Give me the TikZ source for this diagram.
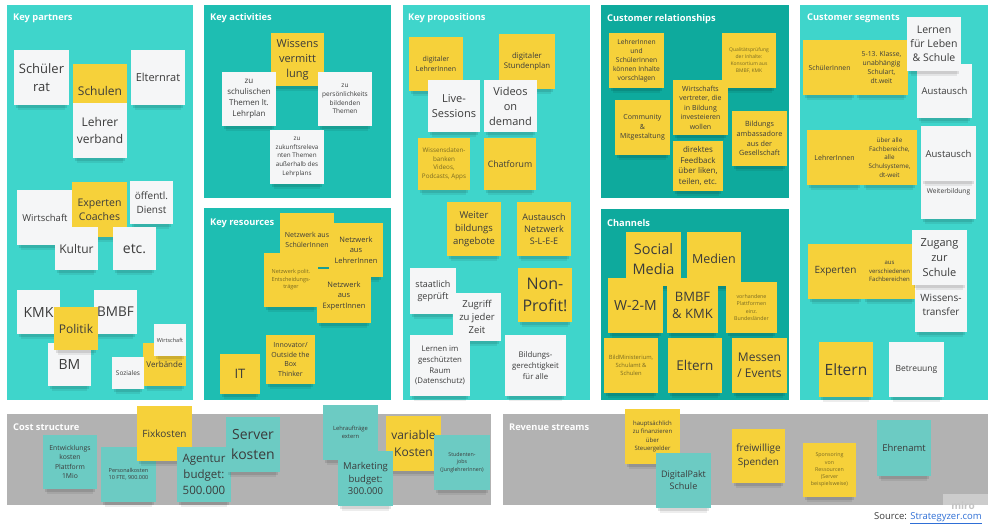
\documentclass[tikz,border=0pt]{standalone}
\usepackage{fontspec}
\setmainfont{Open Sans}
\definecolor{pLight}{HTML}{3FD5CB}
\definecolor{pMed}{HTML}{1EBEB2}
\definecolor{pDark}{HTML}{0EAA9D}
\definecolor{pGray}{HTML}{B2B2B2}
\definecolor{sty}{HTML}{F6D13A}
\definecolor{stw}{HTML}{F5F6F7}
\definecolor{stt}{HTML}{6CCBC3}
\definecolor{txt}{HTML}{3B3B3B}
\definecolor{txtol}{HTML}{7A6A22}
\definecolor{link}{HTML}{2F6FD6}
\definecolor{miroc}{HTML}{C4C4C4}
\tikzset{
  fs/.code={\pgfmathsetmacro\fsl{#1*1.36}\edef\fstmp{\noexpand\tikzset{font=\noexpand\fontsize{#1}{\fsl}\noexpand\selectfont}}\fstmp},
  stickynote/.style={inner sep=0pt, align=center, text=txt, draw=none},
  olive/.style={text=txtol},
  ptitle/.style={anchor=west, text=white, font=\fontsize{9.3}{11}\selectfont\bfseries, inner sep=0pt},
}
% name, x, y, w, h, fill, style, text
\newcommand\stk[8]{%
  \fill[black,opacity=0.10] (#2+2,#3+#5-4) rectangle (#2+#4-2,#3+#5+3);
  \fill[black,opacity=0.07] (#2+4,#3+#5) rectangle (#2+#4-4,#3+#5+5);
  \node[stickynote, fill=#6, minimum width=#4pt, minimum height=#5pt, #7] (#1) at ({#2+#4/2},{#3+#5/2}) {#8};
}
\begin{document}
\begin{tikzpicture}[x=1pt,y=-1pt]
\useasboundingbox (0,0) rectangle (1002,530);
\fill[white] (0,0) rectangle (1002,530);
% panels
\fill[pLight] (7,5) rectangle (193,400);
\fill[pMed] (204,5) rectangle (391,198);
\fill[pMed] (204,208) rectangle (391,400);
\fill[pLight] (403,5) rectangle (590,400);
\fill[pDark] (601,5) rectangle (789,198);
\fill[pDark] (601,209) rectangle (789,400);
\fill[pLight] (800,5) rectangle (988,400);
\fill[pGray] (7,414) rectangle (491,505);
\fill[pGray] (503,414) rectangle (988,505);
% titles
\node[ptitle] (tKP) at (13,18) {Key partners};
\node[ptitle] (tKA) at (210,18) {Key activities};
\node[ptitle] (tKR) at (210,223) {Key resources};
\node[ptitle] (tVP) at (408,18) {Key propositions};
\node[ptitle] (tCR) at (607,19) {Customer relationships};
\node[ptitle] (tCH) at (607,223) {Channels};
\node[ptitle] (tCS) at (807,18) {Customer segments};
\node[ptitle] (tCO) at (13,427) {Cost structure};
\node[ptitle] (tRE) at (509,427) {Revenue streams};

% Key partners
\stk{kpA}{14}{50}{55}{55}{stw}{fs=13}{Schüler\\rat}
\stk{kpB}{131}{50}{54}{55}{stw}{fs=11}{Elternrat}
\stk{kpC}{73}{64}{54}{54}{sty}{fs=12}{Schulen}
\stk{kpD}{73}{103}{54}{55}{stw}{fs=12}{Lehrer\\verband}
\stk{kpE}{17}{190}{56}{55}{stw}{fs=9.5}{Wirtschaft}
\stk{kpF}{72}{182}{55}{55}{sty}{fs=10.5}{Experten\\Coaches}
\stk{kpG}{130}{181}{43}{43}{stw}{fs=10}{öffentl.\\Dienst}
\stk{kpH}{55}{227}{43}{43}{stw}{fs=12}{Kultur}
\stk{kpI}{113}{227}{43}{43}{stw}{fs=14}{etc.}
\stk{kpJ}{17}{290}{43}{44}{stw}{fs=14}{KMK}
\stk{kpK}{94}{290}{43}{44}{stw}{fs=13.5}{BMBF}
\stk{kpL}{48}{343}{43}{43}{stw}{fs=14}{BM}
\stk{kpM}{54}{307}{44}{43}{sty}{fs=12}{Politik}
\stk{kpN}{143}{343}{43}{43}{sty}{fs=8}{Verbände}
\stk{kpO}{154}{324}{32}{32}{stw}{fs=5.5}{Wirtschaft}
\stk{kpP}{112}{357}{32}{32}{stw}{fs=6.5}{Soziales}

% Key activities
\stk{kaA}{271}{33}{53}{53}{sty}{fs=11}{Wissens\\vermitt\\lung}
\stk{kaB}{222}{72}{54}{54}{stw}{fs=8}{zu\\schulischen\\Themen lt.\\Lehrplan}
\stk{kaC}{318}{72}{54}{54}{stw}{fs=6.5}{zu\\persönlichkeits\\bildenden\\Themen}
\stk{kaD}{270}{130}{54}{54}{stw}{fs=6.3}{zu\\zukunftsreleva\\nten Themen\\außerhalb des\\Lehrplans}

% Key resources
\stk{krA}{280}{213}{54}{54}{sty}{fs=7}{Netzwerk aus\\SchülerInnen}
\stk{krB}{329}{223}{54}{54}{sty}{fs=7.5}{Netzwerk\\aus\\LehrerInnen}
\stk{krC}{264}{253}{54}{54}{sty}{fs=5.5,olive}{Netzwerk polit.\\Entscheidungs-\\träger}
\stk{krD}{317}{269}{54}{54}{sty}{fs=7.5}{Netzwerk\\aus\\ExpertInnen}
\stk{krE}{266}{335}{49}{49}{sty}{fs=7}{Innovator/\\Outside the\\Box\\Thinker}
\stk{krF}{220}{354}{40}{40}{sty}{fs=13}{IT}

% Key propositions
\stk{vpA}{409}{37}{54}{54}{sty}{fs=7}{digitaler\\LehrerInnen}
\stk{vpB}{499}{34}{56}{55}{sty}{fs=7.8}{digitaler\\Stundenplan}
\stk{vpC}{428}{80}{52}{52}{stw}{fs=11}{Live-\\Sessions}
\stk{vpD}{484}{80}{53}{52}{stw}{fs=11}{Videos\\on\\demand}
\stk{vpE}{418}{138}{52}{52}{sty}{fs=6.3,olive}{Wissensdaten-\\banken\\Videos,\\Podcasts, Apps}
\stk{vpF}{484}{138}{52}{52}{sty}{fs=8.8}{Chatforum}
\stk{vpG}{447}{202}{54}{54}{sty}{fs=9.5}{Weiter\\bildungs\\angebote}
\stk{vpH}{517}{202}{54}{54}{sty}{fs=9}{Austausch\\Netzwerk\\S-L-E-E}
\stk{vpI}{410}{268}{46}{46}{stw}{fs=9}{staatlich\\geprüft}
\stk{vpJ}{453}{293}{48}{48}{stw}{fs=9.5}{Zugriff\\zu jeder\\Zeit}
\stk{vpK}{518}{268}{54}{54}{sty}{fs=16}{Non-\\Profit!}
\stk{vpL}{410}{335}{60}{61}{stw}{fs=7.8}{Lernen im\\geschützten\\Raum\\(Datenschutz)}
\stk{vpM}{505}{335}{61}{61}{stw}{fs=7.8}{Bildungs-\\gerechtigkeit\\für alle}

% Customer relationships
\stk{crA}{609}{33}{55}{55}{sty}{fs=6.7}{LehrerInnen\\und\\SchülerInnen\\können Inhalte\\vorschlagen}
\stk{crB}{722}{33}{54}{55}{sty}{fs=5,olive}{Qualitätsprüfung\\der Inhalte:\\Konsortium aus\\BMBF, KMK}
\stk{crC}{615}{100}{55}{55}{sty}{fs=7}{Community\\\&\\Mitgestaltung}
\stk{crD}{673}{80}{55}{55}{sty}{fs=7}{Wirtschafts\\vertreter, die\\in Bildung\\investeieren\\wollen}
\stk{crE}{732}{111}{55}{55}{sty}{fs=7.2}{Bildungs\\ambassadore\\aus der\\Gesellschaft}
\stk{crF}{673}{141}{50}{50}{sty}{fs=8}{direktes\\Feedback\\über liken,\\teilen, etc.}

% Channels
\stk{chA}{626}{232}{55}{54}{sty}{fs=14.5}{Social\\Media}
\stk{chB}{687}{232}{54}{54}{sty}{fs=12.5}{Medien}
\stk{chC}{608}{278}{55}{55}{sty}{fs=14}{W-2-M}
\stk{chD}{667}{278}{51}{55}{sty}{fs=13}{BMBF\\\& KMK}
\stk{chE}{726}{282}{51}{51}{sty}{fs=5.3,olive}{vorhandene\\Plattformen\\einz.\\Bundesländer}
\stk{chF}{604}{338}{54}{55}{sty}{fs=5.8,olive}{BildMinisterium,\\Schulamt \&\\Schulen}
\stk{chG}{668}{338}{54}{55}{sty}{fs=13.5}{Eltern}
\stk{chH}{732}{338}{55}{55}{sty}{fs=12}{Messen\\/ Events}

% Customer segments
\stk{csA}{803}{40}{53}{55}{sty}{fs=6.8}{SchülerInnen}
\stk{csB}{855}{40}{53}{55}{sty}{fs=6.8}{5-13. Klasse,\\unabhängig\\Schulart,\\dt.weit}
\stk{csD}{917}{64}{55}{54}{stw}{fs=9.5}{Austausch}
\stk{csC}{907}{17}{54}{54}{stw}{fs=10.5}{Lernen\\für Leben\\\& Schule}
\stk{csE}{807}{130}{55}{55}{sty}{fs=7}{LehrerInnen}
\stk{csF}{862}{130}{55}{55}{sty}{fs=6.3}{über alle\\Fachbereiche,\\alle\\Schulsysteme,\\dt-weit}
\stk{csG}{921}{164}{55}{55}{stw}{fs=6.6}{Weiterbildung}
\stk{csH}{921}{126}{55}{55}{stw}{fs=9.5}{Austausch}
\stk{csI}{808}{244}{55}{55}{sty}{fs=10}{Experten}
\stk{csJ}{863}{244}{53}{55}{sty}{fs=6}{aus\\verschiedenen\\Fachbereichen}
\stk{csK}{915}{278}{52}{54}{stw}{fs=10}{Wissens-\\transfer}
\stk{csL}{912}{230}{55}{55}{stw}{fs=11}{Zugang\\zur\\Schule}
\stk{csM}{819}{342}{54}{55}{sty}{fs=15.5}{Eltern}
\stk{csN}{889}{342}{55}{55}{stw}{fs=8.5}{Betreuung}

% Cost structure
\stk{coA}{43}{435}{54}{54}{stt}{fs=6.8}{Entwicklungs\\kosten\\Plattform\\1Mio}
\stk{coB}{101}{447}{55}{55}{stt}{fs=5.5}{Personalkosten\\10 FTE, 900.000}
\stk{coC}{137}{406}{55}{55}{sty}{fs=10}{Fixkosten}
\stk{coD}{177}{447}{54}{55}{stt}{fs=11.5}{Agentur\\budget:\\500.000}
\stk{coE}{226}{417}{54}{55}{stt}{fs=14}{Server\\kosten}
\stk{coF}{323}{405}{55}{55}{stt}{fs=5.8}{Lehraufträge\\extern}
\stk{coH}{386}{416}{55}{55}{sty}{fs=12}{variable\\Kosten}
\stk{coG}{338}{451}{55}{55}{stt}{fs=9.5}{Marketing\\budget:\\300.000}
\stk{coI}{434}{435}{56}{55}{stt}{fs=5.3}{Studenten-\\jobs\\(JunglehrerInnen)}

% Revenue streams
\stk{reA}{625}{409}{55}{55}{sty}{fs=6}{hauptsächlich\\zu finanzieren\\über\\Steuergelder}
\stk{reB}{656}{453}{55}{55}{stt}{fs=9}{DigitalPakt\\Schule}
\stk{reC}{732}{429}{53}{54}{sty}{fs=10}{freiwillige\\Spenden}
\stk{reD}{803}{443}{53}{54}{sty}{fs=5.3,olive}{Sponsoring\\von\\Ressourcen\\(Server\\beispielsweise)}
\stk{reE}{877}{420}{54}{56}{stt}{fs=9.5}{Ehrenamt}

% watermark and source
\fill[white,opacity=0.35] (943,494) rectangle (988,505);
\node[text=miroc, font=\fontsize{10}{11}\selectfont\bfseries, inner sep=0pt] (miro) at (963,506) {miro};
\node[anchor=east, text=txt, font=\fontsize{9.5}{11}\selectfont, inner sep=0pt] (src) at (982,518.5) {Source: \textcolor{link}{\underline{Strategyzer.com}}};
\end{tikzpicture}
\end{document}
